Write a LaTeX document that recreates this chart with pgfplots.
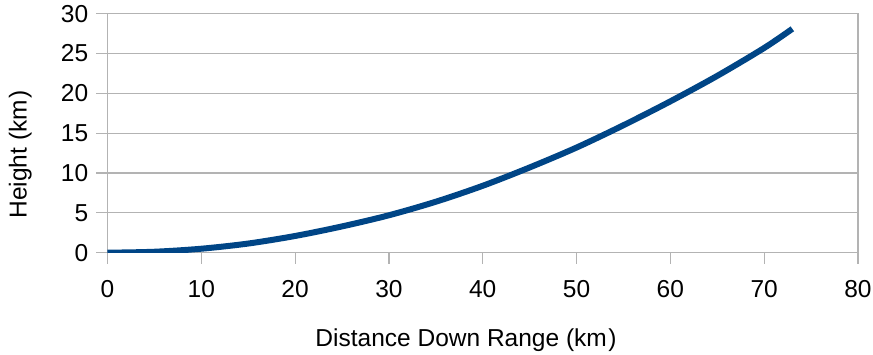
\documentclass[border=0pt]{standalone}
\usepackage{pgfplots}
\pgfplotsset{compat=1.18}
\usepackage{fontspec}
\setmainfont{Liberation Sans}
\definecolor{series}{HTML}{004586}
\definecolor{gridgray}{HTML}{B3B3B3}
\begin{document}
\fontsize{24.5}{29}\selectfont
\begin{tikzpicture}
\begin{axis}[
  scale only axis,
  width=750.5pt, height=239pt,
  xmin=0, xmax=80, ymin=0, ymax=30,
  xtick={0,10,...,80}, ytick={0,5,...,30},
  /pgf/number format/assume math mode=true,
  tick align=outside,
  major tick length=11pt,
  tick style={gridgray, line width=1.2pt},
  axis line style={gridgray, line width=1.2pt},
  ymajorgrids,
  grid style={gridgray, line width=1.2pt},
  xtick pos=bottom, ytick pos=left,
  xticklabel style={yshift=-8.5pt},
  xlabel={Distance Down Range (km\kern1.5pt)},
  ylabel={Height (km\kern1.5pt)},
  xlabel style={at={(axis description cs:0.4777,-0.3933)}, anchor=base},
  ylabel style={at={(axis description cs:-0.1077,0.411)}, anchor=base},
]
\addplot[series, line width=6pt, smooth, line cap=butt] coordinates {
 (0,0) (5,0.12) (10,0.5) (15,1.15) (20,2.1) (25,3.3) (30,4.7) (35,6.4)
 (40,8.4) (45,10.7) (50,13.2) (55,16.0) (60,19.0) (65,22.2) (70,25.7) (73,28.1)
};
\end{axis}
\pgfresetboundingbox
\useasboundingbox (-107.5pt,-101.3pt) rectangle (765.5pt,252.7pt);
\end{tikzpicture}
\end{document}
